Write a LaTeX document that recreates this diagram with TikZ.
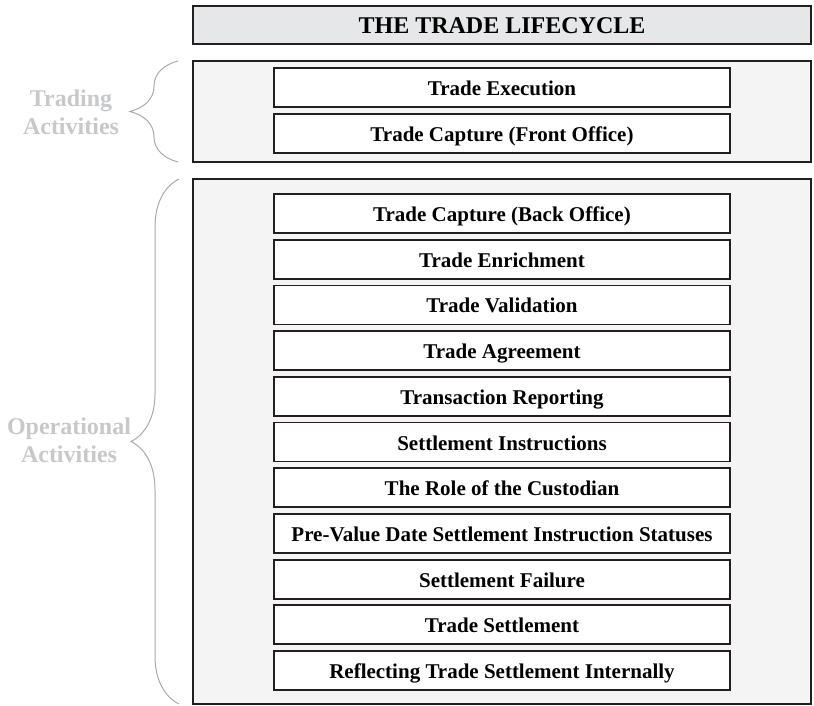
\documentclass[tikz,border=0pt]{standalone}
\usepackage{fontspec}
\setmainfont{Liberation Serif}
\usetikzlibrary{positioning}
\usetikzlibrary{decorations.pathreplacing}
\definecolor{panelgray}{HTML}{F4F4F4}
\definecolor{titlegray}{HTML}{E6E7E8}
\definecolor{framedark}{HTML}{231F20}
\definecolor{labelgray}{HTML}{C7C8CA}
\definecolor{bracegray}{HTML}{A7A9AC}

\begin{document}
\begin{tikzpicture}[x=1pt, y=-1pt,
    stage/.style={draw=framedark, line width=1.8pt, fill=white,
      minimum width=456pt, minimum height=39pt, inner sep=0pt, outer sep=0pt,
      text height=17pt, text depth=1pt,
      font=\fontsize{21}{24}\selectfont\bfseries},
    panel/.style={draw=framedark, line width=1.1pt, fill=panelgray,
      minimum width=618pt, inner sep=0pt, outer sep=0pt},
    sidelabel/.style={text=labelgray, align=center,
      font=\fontsize{24}{28}\selectfont\bfseries},
    curly/.style={draw=bracegray, line width=1pt, decorate,
      decoration={brace, amplitude=48pt}},
    node distance=6.7pt]
    \useasboundingbox (0,0) rectangle (814,706);

    % heading
    \node[panel, fill=titlegray, minimum height=38pt, text height=18pt, text depth=1.5pt,
      font=\fontsize{24}{28}\selectfont\bfseries] (title) at (502,25) {THE TRADE LIFECYCLE};

    % panels
    \node[panel, minimum height=101pt] (trading) at (502,111.5) {};
    \node[panel, minimum height=525pt] (ops) at (502,441.5) {};

    % trading activities
    \node[stage] (exec) at (502,87.5) {Trade Execution};
    \node[stage, below=of exec] (captureFO) {Trade Capture (Front Office)};

    % operational activities
    \node[stage] (captureBO) at (502,213.5) {Trade Capture (Back Office)};
    \node[stage, below=of captureBO] (enrich) {Trade Enrichment};
    \node[stage, below=of enrich] (valid) {Trade Validation};
    \node[stage, below=of valid] (agree) {Trade Agreement};
    \node[stage, below=of agree] (report) {Transaction Reporting};
    \node[stage, below=of report] (instr) {Settlement Instructions};
    \node[stage, below=of instr] (custody) {The Role of the Custodian};
    \node[stage, below=of custody] (status) {Pre-Value Date Settlement Instruction Statuses};
    \node[stage, below=of status] (fail) {Settlement Failure};
    \node[stage, below=of fail] (settle) {Trade Settlement};
    \node[stage, below=of settle] (reflect) {Reflecting Trade Settlement Internally};

    % braces and labels
    \coordinate (tradingTop) at (178,61);
    \coordinate (tradingBot) at (178,162);
    \coordinate (opsTop) at (179,179);
    \coordinate (opsBot) at (179,704);
    \draw[curly] (tradingBot) -- (tradingTop);
    \draw[curly] (opsBot) -- (opsTop);
    \node[sidelabel] (tradingLbl) at (71,112) {Trading\\Activities};
    \node[sidelabel] (opsLbl) at (69,440) {Operational\\Activities};
\end{tikzpicture}
\end{document}
